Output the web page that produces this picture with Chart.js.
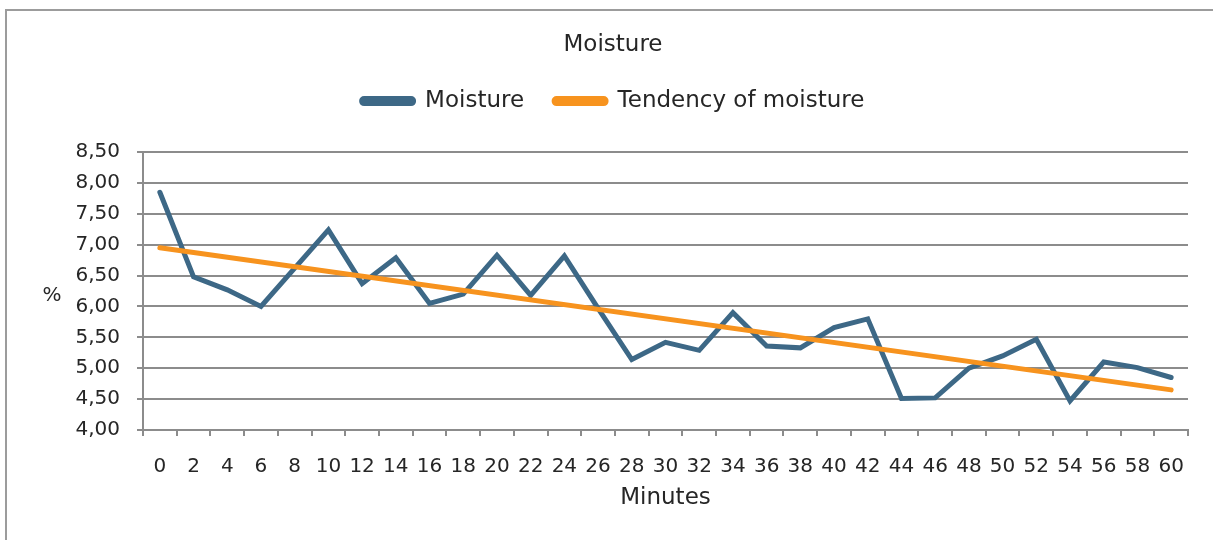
<!DOCTYPE html>
<html>
<head>
<meta charset="utf-8">
<title>Moisture</title>
<script src="https://cdn.jsdelivr.net/npm/chart.js@4"></script>
<style>
  html, body { margin: 0; padding: 0; background: #fff; overflow: hidden; }
  #wrap { position: relative; width: 1213px; height: 540px; }
  #frame { position: absolute; left: 5px; top: 9px; width: 1300px; height: 600px; border: 2px solid #9c9c9c; box-sizing: border-box; }
  #myChart { position: absolute; left: 0; top: 0; }
</style>
</head>
<body>
<div id="wrap">
  <div id="frame"></div>
  <canvas id="myChart" width="1213" height="540"></canvas>
</div>
<script>
// minutes on the x axis
const minutes = ['0','2','4','6','8','10','12','14','16','18','20','22','24','26','28','30',
  '32','34','36','38','40','42','44','46','48','50','52','54','56','58','60'];

// measured moisture (%)
const moisture = [7.85, 6.48, 6.27, 6.00, 6.62, 7.24, 6.37, 6.79, 6.05, 6.20, 6.83, 6.18,
  6.82, 5.97, 5.14, 5.42, 5.29, 5.90, 5.36, 5.33, 5.66, 5.80, 4.51, 4.52, 5.00, 5.20,
  5.47, 4.47, 5.10, 5.01, 4.85];

const tendency = [6.95, null, null, null, null, null, null, null, null, null, null, null,
  null, null, null, null, null, null, null, null, null, null, null, null, null, null,
  null, null, null, null, 4.65];

const yMin = 4;
const yMax = 8.5;
const yStep = 0.5;

const fontFamily = '"DejaVu Sans", Lato, sans-serif';
const tickSize = 20;
const labelSize = 23;
const textColor = '#262626';
const gridColor = '#8c8c8c';

// "%" sits horizontally left of the y axis
const percentLabel = {
  id: 'percentLabel',
  afterDraw(chart) {
    const c = chart.ctx;
    const area = chart.chartArea;
    c.save();
    c.fillStyle = textColor;
    c.font = tickSize + 'px ' + fontFamily;
    c.textAlign = 'center';
    c.textBaseline = 'middle';
    c.fillText('%', 52, (area.top + area.bottom) / 2 + 5);
    c.restore();
  }
};

// leave some room between the legend and the plot
const legendGap = {
  id: 'legendGap',
  beforeLayout(chart) {
    const lg = chart.legend;
    if (lg && !lg._gapPatched) {
      const fit = lg.fit;
      lg.fit = function () {
        fit.call(this);
        this.height += 29.5;
      };
      lg._gapPatched = true;
    }
  }
};

const ctx = document.getElementById('myChart');
const myChart = new Chart(ctx, {
  type: 'line',
  data: {
    labels: minutes,
    datasets: [{
      label: 'Moisture',
      data: moisture,
      borderColor: '#3d6886',
      backgroundColor: '#3d6886',
      borderWidth: 5,
      pointRadius: 0,
      tension: 0,
      borderCapStyle: 'round',
      order: 2
    }, {
      label: 'Tendency of moisture',
      data: tendency,
      spanGaps: true,
      borderColor: '#f7931e',
      backgroundColor: '#f7931e',
      borderWidth: 5,
      pointRadius: 0,
      tension: 0,
      borderCapStyle: 'round',
      order: 1
    }]
  },
  options: {
    responsive: false,
    animation: false,
    layout: { padding: { left: 38, right: 25, top: 0, bottom: 20 } },
    plugins: {
      title: {
        display: true,
        text: 'Moisture',
        color: textColor,
        font: { family: fontFamily, size: labelSize, weight: 'normal' },
        padding: { top: 31, bottom: 1 }
      },
      legend: {
        display: true,
        labels: {
          color: textColor,
          font: { family: fontFamily, size: labelSize },
          boxWidth: 52,
          boxHeight: 5,
          useBorderRadius: true,
          borderRadius: 2.5,
          padding: 30,
          sort: (a, b) => a.datasetIndex - b.datasetIndex
        }
      },
      tooltip: { enabled: false }
    },
    scales: {
      x: {
        offset: true,
        afterFit(scale) { scale.height = 90; },
        grid: {
          offset: true,
          drawOnChartArea: false,
          drawTicks: true,
          tickLength: 6,
          color: gridColor,
          lineWidth: 2
        },
        border: { color: gridColor, width: 2 },
        ticks: {
          color: textColor,
          font: { family: fontFamily, size: tickSize },
          padding: 19,
          maxRotation: 0,
          autoSkip: false
        },
        title: {
          display: true,
          text: 'Minutes',
          color: textColor,
          font: { family: fontFamily, size: labelSize },
          padding: { top: 4, bottom: 8 }
        }
      },
      y: {
        min: yMin,
        max: yMax,
        afterFit(scale) { scale.width = 105; },
        grid: {
          color: gridColor,
          lineWidth: 2,
          tickLength: 6
        },
        border: { color: gridColor, width: 2 },
        ticks: {
          stepSize: yStep,
          color: textColor,
          font: { family: fontFamily, size: tickSize },
          padding: 17,
          callback: (value) => value.toFixed(2).replace('.', ',')
        }
      }
    }
  },
  plugins: [percentLabel, legendGap]
});
</script>
</body>
</html>
